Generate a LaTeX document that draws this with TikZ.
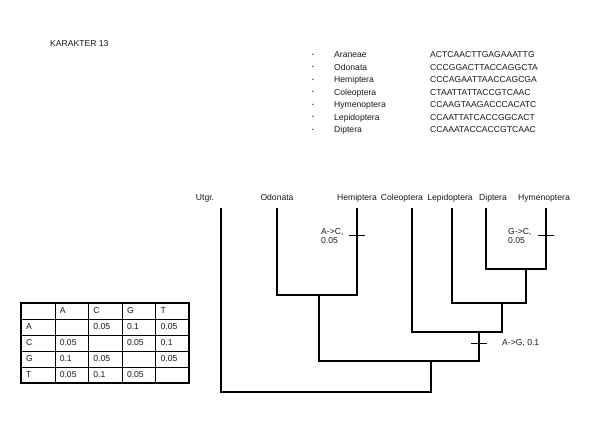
\documentclass[tikz,border=0pt]{standalone}
\usepackage{fontspec}
\setmainfont{Liberation Sans}
\usetikzlibrary{positioning,calc}
\definecolor{tinta}{HTML}{1A1A1A}

\begin{document}
\begin{tikzpicture}[x=1pt,y=-1pt,
    txt/.style={font=\fontsize{8.6}{9.6}\selectfont\color{tinta},inner sep=0pt},
    taxon/.style={txt,anchor=base},
    branch/.style={line width=1.7pt,line join=miter},
    tick/.style={line width=0.8pt},
    cell/.style={txt,anchor=base west},
    gridline/.style={line width=0.7pt}]
  \useasboundingbox[fill=white] (0,0) rectangle (590,443);

  \node[txt,anchor=base west] (title) at (50,47) {KARAKTER 13};

  % sequence list
  \foreach \nm/\sq [count=\i] in {Araneae/ACTCAACTTGAGAAATTG,Odonata/CCCGGACTTACCAGGCTA,
      Hemiptera/CCCAGAATTAACCAGCGA,Coleoptera/CTAATTATTACCGTCAAC,
      Hymenoptera/CCAAGTAAGACCCACATC,Lepidoptera/CCAATTATCACCGGCACT,
      Diptera/CCAAATACCACCGTCAAC}{
    \node[txt] (dot\i) at (313,{55+(\i-1)*12.5}) {\fontsize{5}{5}\selectfont\textbullet};
    \node[txt,anchor=base west] (nm\i) at (334,{58+(\i-1)*12.5}) {\nm};
    \node[txt,anchor=base west] (sq\i) at (430,{58+(\i-1)*12.5}) {\sq};
  }

  % taxa
  \node[taxon] (lu)  at (205,201) {Utgr.};
  \node[taxon] (lod) at (277,201) {Odonata};
  \node[taxon] (lhe) at (357,201) {Hemiptera};
  \node[taxon] (lco) at (402,201) {Coleoptera};
  \node[taxon] (lle) at (450,201) {Lepidoptera};
  \node[taxon] (ldi) at (493,201) {Diptera};
  \node[taxon] (lhy) at (544,201) {Hymenoptera};

  \coordinate (u)  at (221,208);
  \coordinate (od) at (277,208);
  \coordinate (he) at (357,208);
  \coordinate (co) at (412,208);
  \coordinate (le) at (452,208);
  \coordinate (di) at (486,208);
  \coordinate (hy) at (546,208);

  \coordinate (oh)   at (319,295);
  \coordinate (dh)   at (526,269);
  \coordinate (ldh)  at (502,303);
  \coordinate (cldh) at (479,332);
  \coordinate (top)  at (431,361);
  \coordinate (root) at (221,392);

  \draw[branch] (od) |- (oh) -| (he);
  \draw[branch] (di) |- (dh) -| (hy);
  \draw[branch] (le) |- (ldh) -| (dh);
  \draw[branch] (co) |- (cldh) -| (ldh);
  \draw[branch] (oh) |- (top) -| (cldh);
  \draw[branch] (u) -- (root) -| (top);

  % changes
  \coordinate (m1) at (357,235);
  \coordinate (m2) at (546,235);
  \coordinate (m3) at (479,343);
  \draw[tick] ([xshift=-8pt]m1) -- ([xshift=8pt]m1);
  \draw[tick] ([xshift=-8pt]m2) -- ([xshift=8pt]m2);
  \draw[tick] ([xshift=-8pt]m3) -- ([xshift=8pt]m3);
  \node[txt,anchor=north west,align=left] (c1) at (321,228) {A->C,\\0.05};
  \node[txt,anchor=north west,align=left] (c2) at (508,228) {G->C,\\0.05};
  \node[txt,anchor=west] (c3) at (502,343) {A->G, 0.1};

  % cost table
  \foreach \x in {55,88,122,155}
    \draw[gridline] (\x,303) -- (\x,383);
  \foreach \y in {319,335,351,367}
    \draw[gridline] (21,\y) -- (189,\y);
  \draw[line width=1.3pt] (21,303) rectangle (189,383);
  \foreach \t [count=\i] in {A,C,G,T}{
    \node[cell] (h\i) at ({21+\i*33.6+5},314) {\t};
    \node[cell] (r\i) at (26,{314+\i*16}) {\t};
  }
  \foreach \r/\c/\v in {1/2/0.05,1/3/0.1,1/4/0.05,2/1/0.05,2/3/0.05,2/4/0.1,
      3/1/0.1,3/2/0.05,3/4/0.05,4/1/0.05,4/2/0.1,4/3/0.05}
    \node[cell] (v\r\c) at ({21+\c*33.6+5},{314+\r*16}) {\v};
\end{tikzpicture}
\end{document}
